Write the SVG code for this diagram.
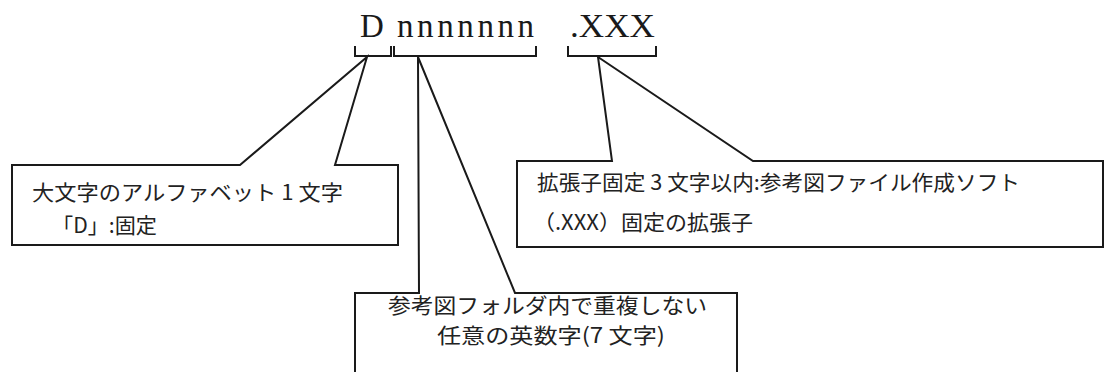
<svg xmlns="http://www.w3.org/2000/svg" width="1106" height="372" viewBox="0 0 1106 372">
<style>
.bg{fill:#ffffff}
.box{fill:#ffffff;stroke:#1a1a1a;stroke-width:2;stroke-linejoin:miter}
.br{fill:none;stroke:#1a1a1a;stroke-width:2}
.jp{font-family:"Noto Sans CJK JP","Noto Sans",sans-serif;font-size:21px;fill:#222222}
.top{font-family:"Liberation Serif",serif;font-size:33px;fill:#1a1a1a}
</style>
<rect class="bg" x="0" y="0" width="1106" height="372"/>
<g id="title">
<text class="top" x="360" y="37">D</text>
<text class="top" x="397" y="37" letter-spacing="3.6">nnnnnnn</text>
<text class="top" x="570" y="37" textLength="85" lengthAdjust="spacingAndGlyphs">.XXX</text>
</g>
<g id="connectors">
<path class="br" d="M355,46 V56 H391 V46"/>
<path class="br" d="M394,46 V56 H536 V46"/>
<path class="br" d="M568,46 V56 H656 V46"/>
</g>
<g id="node-prefix">
<path class="box" d="M12,165 L240,165 L367,57 L335,165 L398,165 L398,245 L12,245 Z"/>
<text class="jp" x="32" y="200" textLength="311" lengthAdjust="spacingAndGlyphs">大文字のアルファベット 1 文字</text>
<text class="jp" x="52" y="233" textLength="105" lengthAdjust="spacingAndGlyphs">「D」:固定</text>
</g>
<g id="node-extension">
<path class="box" d="M517,161 L612,161 L598,57 L753,161 L1103,161 L1103,247 L517,247 Z"/>
<text class="jp" x="537" y="190" textLength="483" lengthAdjust="spacingAndGlyphs">拡張子固定 3 文字以内:参考図ファイル作成ソフト</text>
<text class="jp" x="533" y="230" textLength="220" lengthAdjust="spacingAndGlyphs">（.XXX）固定の拡張子</text>
</g>
<g id="node-serial">
<path class="box" d="M355,374 L355,293 L419,293 L418,57 L515,293 L737,293 L737,374"/>
<text class="jp" x="388" y="313" textLength="319" lengthAdjust="spacingAndGlyphs">参考図フォルダ内で重複しない</text>
<text class="jp" x="437" y="343" textLength="228" lengthAdjust="spacingAndGlyphs">任意の英数字(7 文字)</text>
</g>
</svg>
